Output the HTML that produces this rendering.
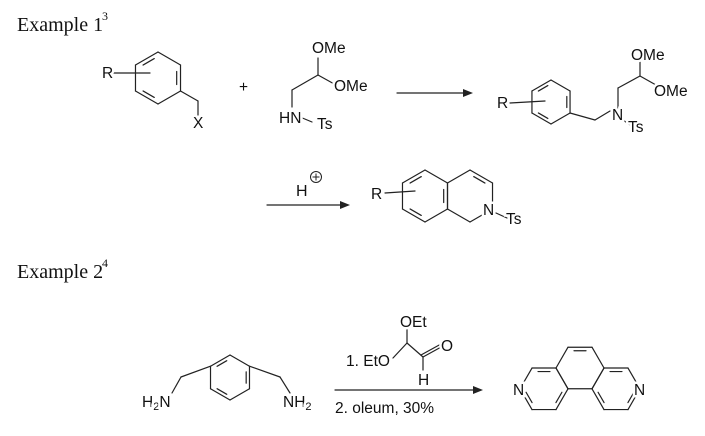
<!DOCTYPE html>
<html><head><meta charset="utf-8"><style>
html,body{margin:0;padding:0;background:#fff;}
svg{display:block;}
text{font-family:"Liberation Sans",sans-serif;font-size:15.5px;fill:#111;}
.lab{paint-order:stroke;stroke:#fff;stroke-width:5px;}
.ser{font-family:"Liberation Serif",serif;font-size:20px;}
</style></head><body>
<svg id="s" width="705" height="436" viewBox="0 0 705 436" xmlns="http://www.w3.org/2000/svg">
<g id="g" stroke="#222" stroke-width="1.2" fill="none" stroke-linecap="round"></g>
<polygon points="473,93 463,89 463,97" fill="#222"/>
<polygon points="350,205 340,201 340,209" fill="#222"/>
<polygon points="483,390 473,386 473,394" fill="#222"/>
<text class="ser" x="17" y="31">Example 1</text><text x="102" y="20" style="font-family:'Liberation Serif',serif;font-size:12px">3</text>
<text class="ser" x="17" y="278">Example 2</text><text x="102" y="267" style="font-family:'Liberation Serif',serif;font-size:12px">4</text>
<text class="lab" x="102" y="78">R</text>
<text class="lab" x="193" y="128">X</text>
<text x="239" y="92">+</text>
<text class="lab" x="312" y="53">OMe</text>
<text class="lab" x="334" y="91">OMe</text>
<text class="lab" x="279" y="123">HN</text>
<text class="lab" x="317" y="129">Ts</text>
<text class="lab" x="497" y="108">R</text>
<text class="lab" x="631" y="60">OMe</text>
<text class="lab" x="654" y="96">OMe</text>
<text class="lab" x="612" y="120">N</text>
<text class="lab" x="628" y="132">Ts</text>
<text x="296" y="196" style="font-size:16px">H</text>
<circle cx="316" cy="177" r="5.5" fill="none" stroke="#222" stroke-width="1"/><path d="M312.5 177h7M316 173.5v7" stroke="#222" stroke-width="1"/>
<text class="lab" x="371" y="199">R</text>
<text class="lab" x="483" y="215">N</text>
<text class="lab" x="506" y="224">Ts</text>
<text class="lab" x="142" y="407">H<tspan font-size="11" dy="3">2</tspan><tspan dy="-3">N</tspan></text>
<text class="lab" x="283" y="407">NH<tspan font-size="11" dy="3">2</tspan></text>
<text class="lab" x="346" y="366">1. EtO</text>
<text class="lab" x="400" y="327">OEt</text>
<text class="lab" x="441" y="351">O</text>
<text class="lab" x="418" y="385">H</text>
<text x="335" y="413">2. oleum, 30%</text>
<text class="lab" x="513" y="395">N</text>
<text class="lab" x="634" y="395">N</text>
</svg>
<script>
var g=document.getElementById('g'),NS='http://www.w3.org/2000/svg';
function L(a,b,c,d){var l=document.createElementNS(NS,'line');l.setAttribute('x1',a);l.setAttribute('y1',b);l.setAttribute('x2',c);l.setAttribute('y2',d);g.appendChild(l);}
function hex(cx,cy,r,start){var v=[];for(var i=0;i<6;i++){var a=(start+60*i)*Math.PI/180;v.push([cx+r*Math.cos(a),cy+r*Math.sin(a)]);}return v;}
function ring(cx,cy,r,start,inner,skip){var v=hex(cx,cy,r,start);for(var i=0;i<6;i++){if(skip&&skip.indexOf(i)>=0)continue;var p=v[i],q=v[(i+1)%6];L(p[0],p[1],q[0],q[1]);}
(inner||[]).forEach(function(i){var p=v[i],q=v[(i+1)%6];var k=0.17,f=0.2;
var p2=[p[0]+(cx-p[0])*k,p[1]+(cy-p[1])*k],q2=[q[0]+(cx-q[0])*k,q[1]+(cy-q[1])*k];
L(p2[0]+(q2[0]-p2[0])*f,p2[1]+(q2[1]-p2[1])*f,q2[0]+(p2[0]-q2[0])*f,q2[1]+(p2[1]-q2[1])*f);});}
ring(158,78,26,-90,[1,3,5]);
L(113,73,150,73);L(180.5,91,198,101);L(198,101,198,115);
L(292,107,292,90);L(292,90,318,75);L(318,75,318,58);L(318,75,336,85);L(300,117,312,122);
L(397,93,465,93);
ring(551,102,22,-90,[1,3,5]);
L(510,103,545,101);L(570,113,595,120);L(595,120,610,111);L(618,108,618,88);L(618,88,640,76);L(640,76,640,62);L(640,76,656,85);L(623,120,630,125);
L(267,205,342,205);
ring(425,196,26,-90,[1,3,5]);
ring(470,196,26,-90,[0]);
L(385,193,415,191);L(496,213,507,218);
ring(230,377.5,22.5,-90,[1,3,5]);
L(210.5,366.2,181,377);L(181,377,172,393);L(249.5,366.2,280,377);L(280,377,290,393);
L(335,390,475,390);
L(393,358,407,343);L(407,343,407,328);L(407,343,423,357);L(423,357,443,346);L(421,355,441,344);L(423,357,423,370);
ring(580,368,24,0,[4]);
ring(544,388.8,24,0,[0,2,4]);
ring(616,388.8,24,0,[2,4,0]);
</script>
</body></html>
